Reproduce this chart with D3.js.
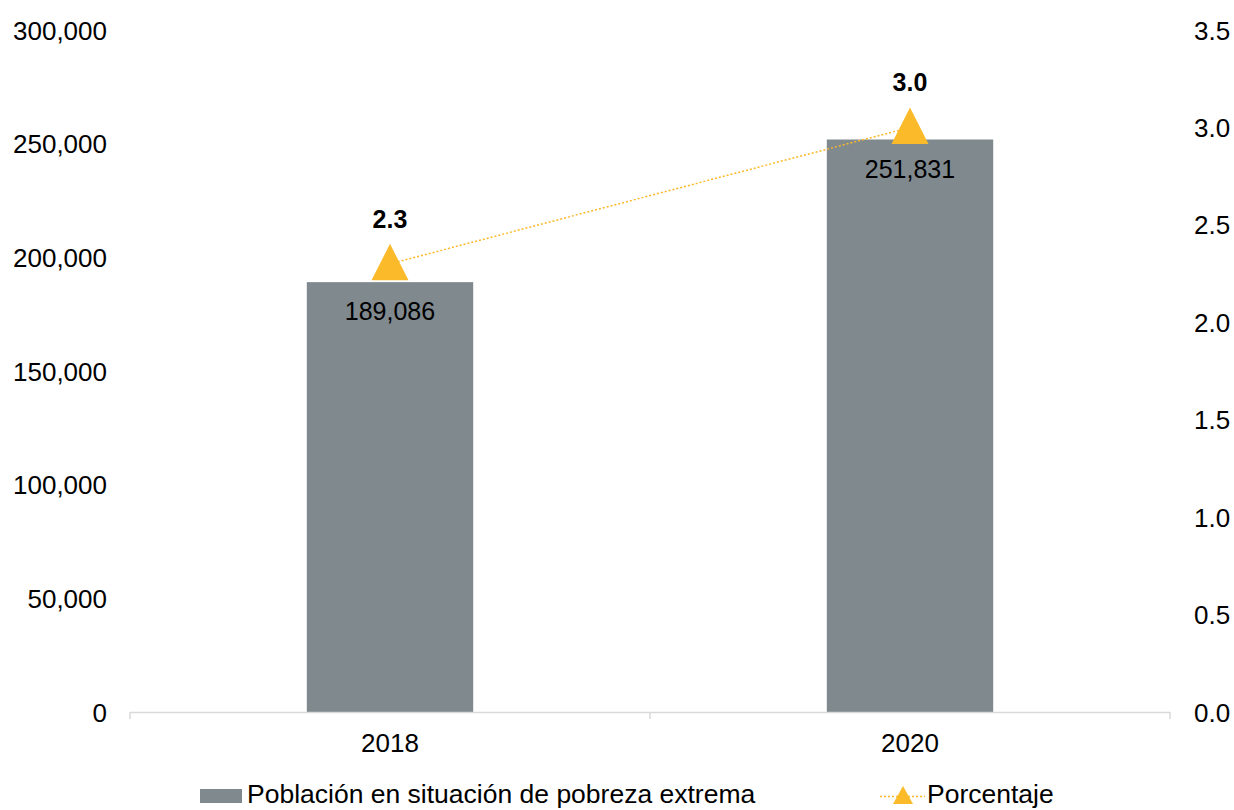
<!DOCTYPE html>
<html>
<head>
<meta charset="utf-8">
<script src="https://cdn.jsdelivr.net/npm/d3@7"></script>
<style>
  body { margin: 0; background: #fff; }
  svg text { font-family: "Liberation Sans", Arial, sans-serif; fill: #000; }
</style>
</head>
<body>
<div id="chart"></div>
<script>
const years = ["2018", "2020"];
const poblacion = [189086, 251831];
const porcentaje = [2.3, 3.0];
const leftTicks = [0, 50000, 100000, 150000, 200000, 250000, 300000];
const rightTicks = [0, 0.5, 1.0, 1.5, 2.0, 2.5, 3.0, 3.5];

const W = 1234, H = 810;
const plotLeft = 130, plotRight = 1170, plotTop = 30, plotBottom = 712;

const svg = d3.select("#chart").append("svg")
    .attr("width", W)
    .attr("height", H);

const x = d3.scaleBand()
    .domain(years)
    .range([plotLeft, plotRight])
    .paddingInner(0.68)
    .paddingOuter(0.34);

const yL = d3.scaleLinear().domain([0, 300000]).range([plotBottom, plotTop]);
const yR = d3.scaleLinear().domain([0, 3.5]).range([plotBottom, plotTop]);

const fmt = d3.format(",");
const cx = d => x(d) + x.bandwidth() / 2;

// left axis labels
svg.append("g")
    .selectAll("text")
    .data(leftTicks)
    .enter()
    .append("text")
    .attr("x", 107)
    .attr("y", d => yL(d) + 9.5)
    .attr("text-anchor", "end")
    .style("font-size", "26px")
    .text(d => fmt(d));

// right axis labels
svg.append("g")
    .selectAll("text")
    .data(rightTicks)
    .enter()
    .append("text")
    .attr("x", 1194)
    .attr("y", d => yR(d) + 9.5)
    .attr("text-anchor", "start")
    .style("font-size", "26px")
    .text(d => d3.format(".1f")(d));

// bars
svg.append("g")
    .selectAll("rect")
    .data(years)
    .enter()
    .append("rect")
    .attr("x", d => x(d))
    .attr("width", x.bandwidth())
    .attr("y", (d, i) => yL(poblacion[i]))
    .attr("height", (d, i) => plotBottom - yL(poblacion[i]))
    .style("fill", "#7f898e");

// x axis line + ticks
const xAxis = svg.append("g");
xAxis.append("line")
    .attr("x1", plotLeft).attr("x2", plotRight)
    .attr("y1", plotBottom + 0.5).attr("y2", plotBottom + 0.5)
    .style("stroke", "#d9d9d9").style("stroke-width", 1.5);
const step = (plotRight - plotLeft) / years.length;
xAxis.selectAll("line.tick")
    .data(d3.range(years.length + 1))
    .enter()
    .append("line")
    .attr("class", "tick")
    .attr("x1", i => plotLeft + i * step)
    .attr("x2", i => plotLeft + i * step)
    .attr("y1", plotBottom)
    .attr("y2", plotBottom + 7)
    .style("stroke", "#d9d9d9").style("stroke-width", 1.5);
xAxis.selectAll("text")
    .data(years)
    .enter()
    .append("text")
    .attr("x", cx)
    .attr("y", 752)
    .attr("text-anchor", "middle")
    .style("font-size", "26px")
    .text(d => d);

// bar value labels
svg.append("g")
    .selectAll("text")
    .data(years)
    .enter()
    .append("text")
    .attr("x", cx)
    .attr("y", (d, i) => yL(poblacion[i]) + 38)
    .attr("text-anchor", "middle")
    .style("font-size", "25px")
    .text((d, i) => fmt(poblacion[i]));

// percentage line
const line = d3.line()
    .x(d => cx(d[0]))
    .y(d => yR(d[1]));
svg.append("path")
    .datum(years.map((y, i) => [y, porcentaje[i]]))
    .attr("d", line)
    .style("fill", "none")
    .style("stroke", "#fbb829")
    .style("stroke-width", 1.5)
    .style("stroke-dasharray", "2,2");

// triangle markers
function triangle(w, up, down) {
    return "M0," + (-up) + "L" + (w / 2) + "," + down + "L" + (-w / 2) + "," + down + "Z";
}
svg.append("g")
    .selectAll("path")
    .data(years)
    .enter()
    .append("path")
    .attr("d", triangle(37, 20, 16.5))
    .attr("transform", (d, i) => "translate(" + cx(d) + "," + yR(porcentaje[i]) + ")")
    .style("fill", "#fbba2a");

svg.append("g")
    .selectAll("text")
    .data(years)
    .enter()
    .append("text")
    .attr("x", cx)
    .attr("y", (d, i) => yR(porcentaje[i]) - 36)
    .attr("text-anchor", "middle")
    .style("font-size", "25px")
    .style("font-weight", "bold")
    .text((d, i) => d3.format(".1f")(porcentaje[i]));

// legend
const lg = svg.append("g");
lg.append("rect")
    .attr("x", 200).attr("y", 789)
    .attr("width", 42).attr("height", 14)
    .style("fill", "#7f898e");
lg.append("text")
    .attr("x", 247).attr("y", 803)
    .style("font-size", "26.5px")
    .text("Población en situación de pobreza extrema");
lg.append("line")
    .attr("x1", 880).attr("x2", 925)
    .attr("y1", 796.5).attr("y2", 796.5)
    .style("stroke", "#fbb829")
    .style("stroke-width", 1.5)
    .style("stroke-dasharray", "2,2");
lg.append("path")
    .attr("d", triangle(20, 10, 8))
    .attr("transform", "translate(903,796)")
    .style("fill", "#fbba2a");
lg.append("text")
    .attr("x", 927).attr("y", 803)
    .style("font-size", "26.5px")
    .text("Porcentaje");
</script>
</body>
</html>
